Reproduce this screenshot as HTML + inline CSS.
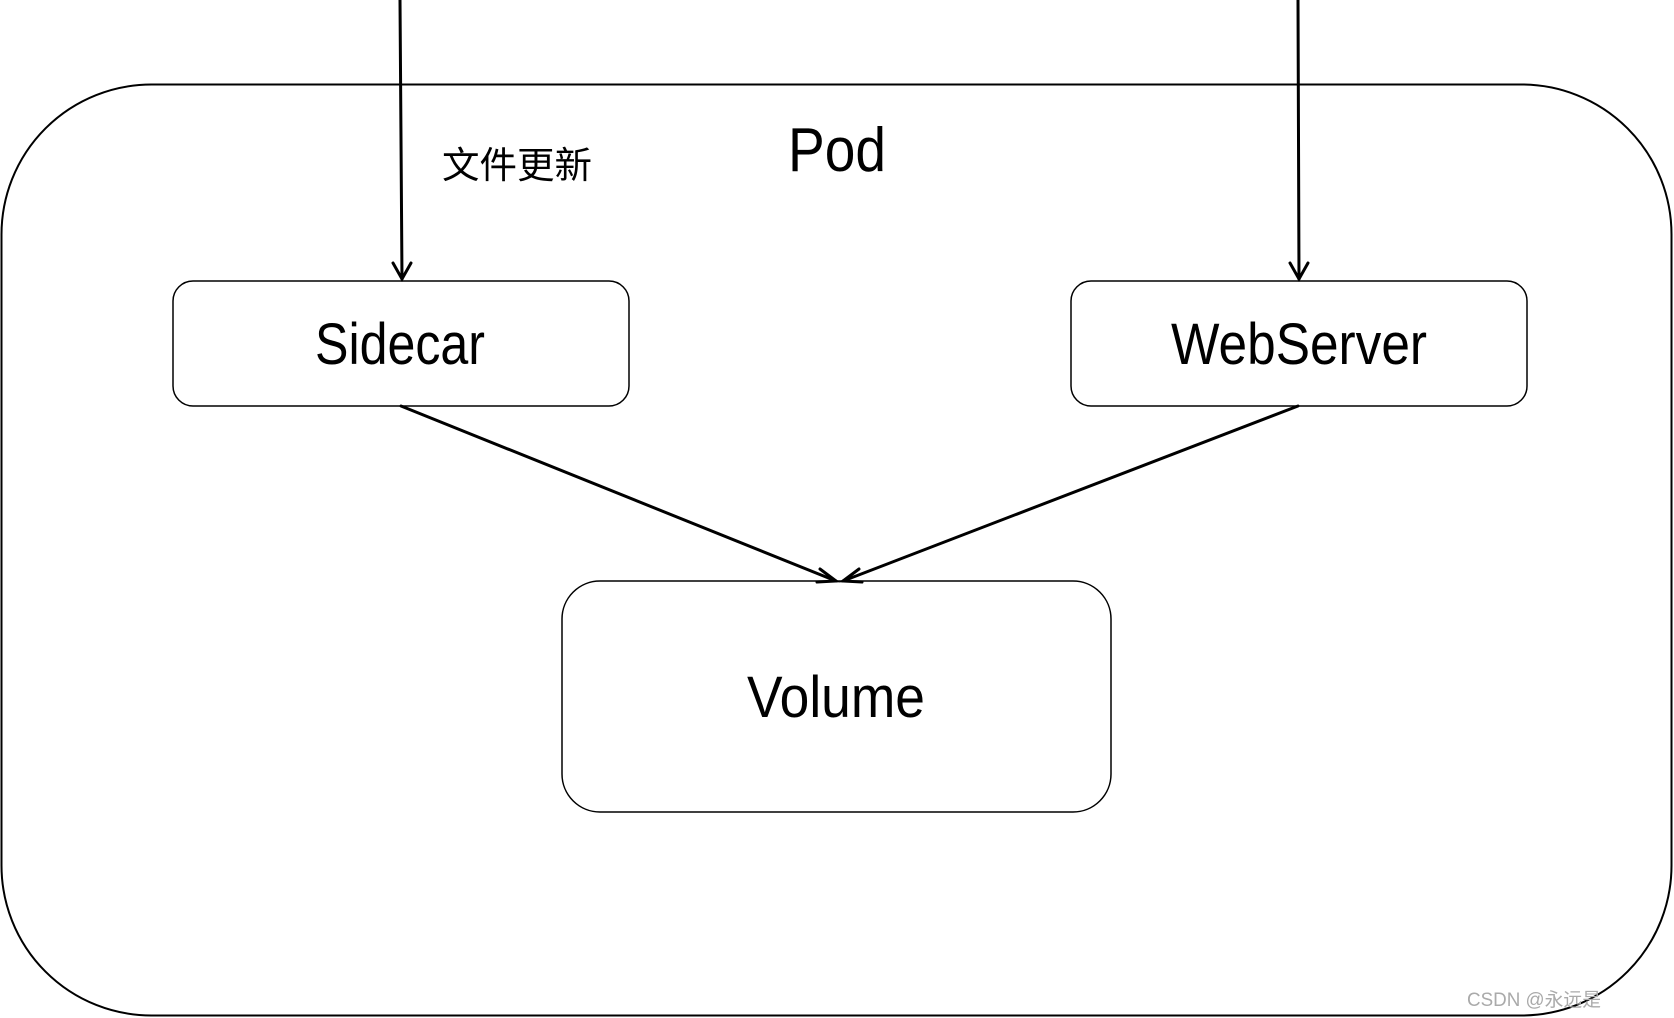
<!DOCTYPE html>
<html><head><meta charset="utf-8"><style>html,body{margin:0;padding:0;background:#fff}svg{display:block}</style></head>
<body>
<svg width="1674" height="1018" viewBox="0 0 1674 1018" xmlns="http://www.w3.org/2000/svg">
<rect x="1.5" y="84.5" width="1670" height="931" rx="150" ry="150" fill="none" stroke="#000" stroke-width="2"/>
<rect x="173" y="281" width="456" height="125" rx="20" fill="#fff" stroke="#000" stroke-width="1.5"/>
<rect x="1071" y="281" width="456" height="125" rx="20" fill="#fff" stroke="#000" stroke-width="1.5"/>
<rect x="562" y="581" width="549" height="231" rx="38" fill="#fff" stroke="#000" stroke-width="1.5"/>
<g stroke="#000" stroke-width="3" fill="none" stroke-linecap="round">
<line x1="400" y1="0" x2="402" y2="279"/>
<polyline points="393,263 402,279 411,263"/>
<line x1="1298" y1="0" x2="1299" y2="279"/>
<polyline points="1290,263 1299,279 1308,263"/>
<line x1="401" y1="406" x2="836" y2="581"/>
<polyline points="820,569 836,581 817,582"/>
<line x1="1298" y1="406" x2="843" y2="581"/>
<polyline points="859,569 843,581 862,582"/>
</g>
<g font-family="'Liberation Sans','Noto Sans CJK SC',sans-serif" fill="#000" text-anchor="middle">
<text x="837" y="171" font-size="62" textLength="98" lengthAdjust="spacingAndGlyphs">Pod</text>
<text x="400" y="364" font-size="58" textLength="170" lengthAdjust="spacingAndGlyphs">Sidecar</text>
<text x="1299" y="364" font-size="58" textLength="256" lengthAdjust="spacingAndGlyphs">WebServer</text>
<text x="836" y="717" font-size="58" textLength="178" lengthAdjust="spacingAndGlyphs">Volume</text>
<text x="517" y="178" font-size="37" textLength="150" lengthAdjust="spacingAndGlyphs">文件更新</text>
<text x="1534" y="1006" font-size="19" fill="#aaa" textLength="134" lengthAdjust="spacingAndGlyphs">CSDN @永远是</text>
</g>
</svg>
</body></html>
